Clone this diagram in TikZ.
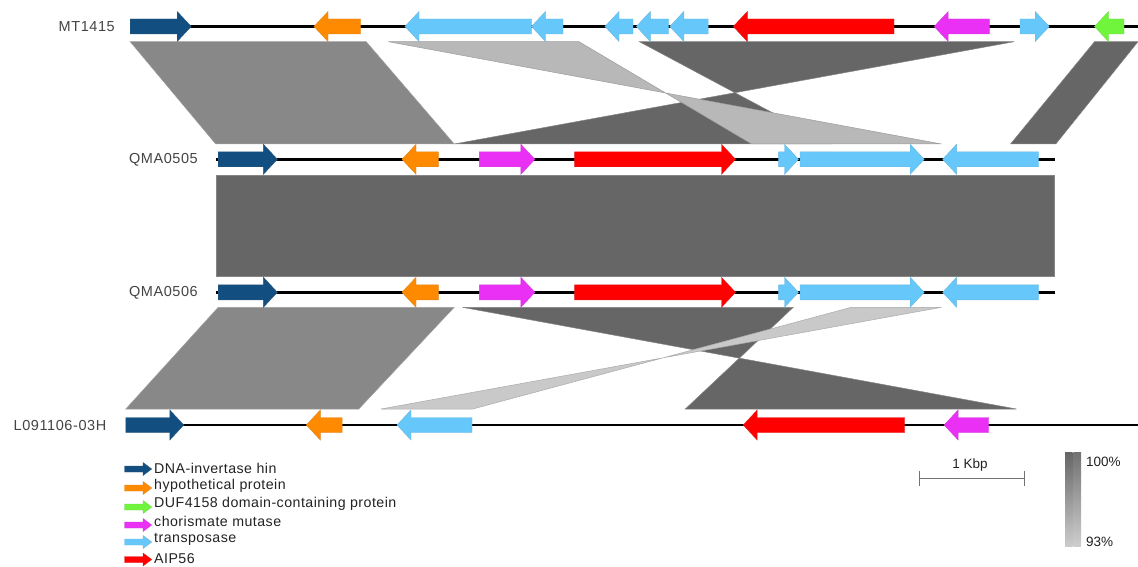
\documentclass[tikz,border=0pt]{standalone}
\usepackage{fontspec}
\setmainfont{Liberation Sans}
\newfontfamily\widesans[LetterSpace=4]{Liberation Sans}
\newfontfamily\legsans[LetterSpace=3.3]{Liberation Sans}
\definecolor{cdblue}{HTML}{124E7F}
\definecolor{corange}{HTML}{FD8A00}
\definecolor{clblue}{HTML}{66C8FA}
\definecolor{cred}{HTML}{FF0000}
\definecolor{cmag}{HTML}{EA30F4}
\definecolor{cgreen}{HTML}{70F43C}
\definecolor{gmid}{HTML}{888888}
\definecolor{gdark}{HTML}{666666}
\definecolor{glightA}{HTML}{B8B8B8}
\definecolor{glightB}{HTML}{C9C9C9}
\definecolor{glow}{HTML}{CCCCCC}
\definecolor{labelgrey}{HTML}{444444}
\definecolor{legtext}{HTML}{222222}
% forward gene: start, tip, y, colour
\newcommand\genefwd[4]{\filldraw[gene,fill=#4,draw=#4!75!gray] (#1,#3-7.5) -- (#2-14,#3-7.5) -- (#2-14,#3-15) -- (#2,#3) -- (#2-14,#3+15) -- (#2-14,#3+7.5) -- (#1,#3+7.5) -- cycle;}
% reverse gene: tip, end, y, colour
\newcommand\generev[4]{\filldraw[gene,fill=#4,draw=#4!75!gray] (#2,#3-7.5) -- (#1+14,#3-7.5) -- (#1+14,#3-15) -- (#1,#3) -- (#1+14,#3+15) -- (#1+14,#3+7.5) -- (#2,#3+7.5) -- cycle;}
% legend arrow: y, colour
\newcommand\legarrow[2]{\filldraw[gene,fill=#2,draw=#2!75!gray] (124.5,#1-3) -- (143,#1-3) -- (143,#1-6.5) -- (151.7,#1) -- (143,#1+6.5) -- (143,#1+3) -- (124.5,#1+3) -- cycle;}
\begin{document}
\begin{tikzpicture}[x=1pt,y=-1pt,
  gene/.style={line width=0.4pt, line join=miter},
  chrom/.style={line width=2.8pt, black},
  region/.style={line width=0.5pt},
  lbl/.style={font=\widesans\fontsize{14.5}{16}\selectfont, text=labelgrey, inner sep=0pt},
  legtxt/.style={font=\legsans\fontsize{14.2}{16}\selectfont, text=legtext, inner sep=0pt, anchor=west},
  scaletxt/.style={font=\fontsize{13.5}{15}\selectfont, text=legtext, inner sep=0pt}]
\useasboundingbox (0,0) rectangle (1138,567);

% ---------- comparison regions ----------
% MT1415 - QMA0505
\filldraw[region,fill=gmid,draw=gmid!80!white] (130.2,41.7) -- (366.2,41.7) -- (454.2,144) -- (215.7,144) -- cycle;
\filldraw[region,fill=gdark,draw=gdark!80!white] (639.3,41.7) -- (1014.2,41.7) -- (454.2,144) -- (831,144) -- cycle;
\filldraw[region,fill=glightA,draw=glightA!85!black] (388.4,41.7) -- (579,41.7) -- (751.7,144) -- (941.5,144) -- cycle;
\filldraw[region,fill=gdark,draw=gdark!80!white] (1094.5,41.7) -- (1138,41.7) -- (1055.8,144) -- (1010.5,144) -- cycle;
% QMA0505 - QMA0506
\filldraw[region,fill=gdark,draw=gdark!80!white] (216.4,175) rectangle (1054.7,276.7);
% QMA0506 - L091106-03H
\filldraw[region,fill=gmid,draw=gmid!80!white] (218.2,307.3) -- (454.2,307.3) -- (358.8,409) -- (125.8,409) -- cycle;
\filldraw[region,fill=gdark,draw=gdark!80!white] (462.4,307.3) -- (793.3,307.3) -- (685.3,409) -- (1016.4,409) -- cycle;
\filldraw[region,fill=glightB,draw=glightB!85!black] (851.2,307.3) -- (941.5,307.3) -- (381,409) -- (472.7,409) -- cycle;

% ---------- chromosomes ----------
\draw[chrom] (130,26.5) -- (1138,26.5);
\draw[chrom] (216.4,159.3) -- (1054.7,159.3);
\draw[chrom] (216.4,292.3) -- (1054.7,292.3);
\draw[chrom] (125.8,425) -- (1138,425);

% ---------- labels ----------
\node[lbl,anchor=east] (mt) at (115,27) {MT1415};
\node[lbl,anchor=east] (q5) at (198,160) {QMA0505};
\node[lbl,anchor=east] (q6) at (198,293) {QMA0506};
\node[lbl,anchor=east] (lh) at (106.5,425.5) {L091106-03H};

% ---------- genes: MT1415 ----------
\genefwd{130.2}{191.2}{26.5}{cdblue}
\generev{314}{360.7}{26.5}{corange}
\generev{405}{531.5}{26.5}{clblue}
\generev{531.5}{563}{26.5}{clblue}
\generev{605}{633}{26.5}{clblue}
\generev{636.3}{668.7}{26.5}{clblue}
\generev{669.8}{708.2}{26.5}{clblue}
\generev{733.3}{894}{26.5}{cred}
\generev{934.2}{989.4}{26.5}{cmag}
\genefwd{1020}{1049.2}{26.5}{clblue}
\generev{1094.5}{1124}{26.5}{cgreen}

% ---------- genes: QMA0505 / QMA0506 ----------
\foreach \yy in {159.3,292.3}{
  \genefwd{218.2}{277.4}{\yy}{cdblue}
  \generev{402}{438.3}{\yy}{corange}
  \genefwd{479.4}{534.9}{\yy}{cmag}
  \genefwd{574.6}{735.5}{\yy}{cred}
  \genefwd{778.6}{798.5}{\yy}{clblue}
  \genefwd{800}{924.2}{\yy}{clblue}
  \generev{942.6}{1038.5}{\yy}{clblue}
}

% ---------- genes: L091106-03H ----------
\genefwd{125.8}{183.8}{425}{cdblue}
\generev{306.3}{342.2}{425}{corange}
\generev{397}{472}{425}{clblue}
\generev{743.2}{904.7}{425}{cred}
\generev{944.1}{988.7}{425}{cmag}

% ---------- legend ----------
\legarrow{469}{cdblue}
\legarrow{488}{corange}
\legarrow{507}{cgreen}
\legarrow{525}{cmag}
\legarrow{542}{clblue}
\legarrow{559.5}{cred}
\node[legtxt] (l1) at (154,468) {DNA-invertase hin};
\node[legtxt] (l2) at (154,485.5) {hypothetical protein};
\node[legtxt] (l3) at (154,503.5) {DUF4158 domain-containing protein};
\node[legtxt] (l4) at (154,521.5) {chorismate mutase};
\node[legtxt] (l5) at (154,539) {transposase};
\node[legtxt] (l6) at (154,558.5) {AIP56};

% ---------- scale bar ----------
\coordinate (sbl) at (919,478.3);
\coordinate (sbr) at (1024,478.3);
\draw[gray!90!black,line width=1pt] (sbl) -- (sbr);
\draw[gray!90!black,line width=1pt] (919,470.7) -- (919,485.5);
\draw[gray!90!black,line width=1pt] (1024,470.7) -- (1024,485.5);
\node[scaletxt] (kbp) at (970,465) {1 Kbp};

% ---------- identity gradient ----------
\shade[top color=gdark,bottom color=glow] (1065,452.7) rectangle (1072.6,546.7);
\shade[top color=gdark!92!white,bottom color=glow!95!white] (1073.4,452.7) rectangle (1081,546.7);
\node[scaletxt,anchor=west] (p100) at (1086,461.5) {100\%};
\node[scaletxt,anchor=west] (p93) at (1086,541.5) {93\%};
\end{tikzpicture}
\end{document}
